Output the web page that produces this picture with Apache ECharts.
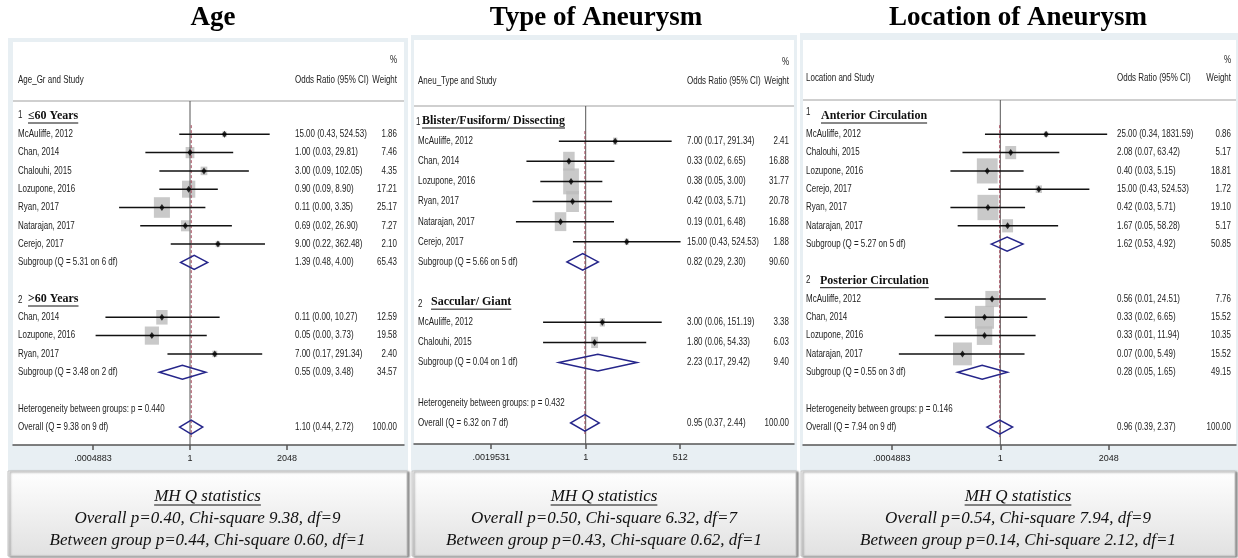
<!DOCTYPE html>
<html>
<head>
<meta charset="utf-8">
<title>Forest plots</title>
<script src="https://cdn.jsdelivr.net/npm/echarts@6/dist/echarts.min.js"></script>
<style>
html, body { margin: 0; padding: 0; background: #fff; }
#chart { width: 1238px; height: 558px; }
</style>
</head>
<body>
<div id="chart"></div>
<script>
// ---- Age ----
const ageGroups = ['≤60 Years', '>60 Years']
const ageStudies = ['McAuliffe, 2012', 'Chan, 2014', 'Chalouhi, 2015', 'Lozupone, 2016', 'Ryan, 2017', 'Natarajan, 2017', 'Cerejo, 2017', 'Chan, 2014', 'Lozupone, 2016', 'Ryan, 2017']
const ageStudyGroup = [0, 0, 0, 0, 0, 0, 0, 1, 1, 1]
const ageOR = [15.00, 1.00, 3.00, 0.90, 0.11, 0.69, 9.00, 0.11, 0.05, 7.00]
const ageLow = [0.43, 0.03, 0.09, 0.09, 0.0038, 0.02, 0.22, 0.0013, 0.0006, 0.17]
const ageHigh = [524.53, 29.81, 102.05, 8.90, 3.35, 26.90, 362.48, 10.27, 3.73, 291.34]
const ageWeight = [1.86, 7.46, 4.35, 17.21, 25.17, 7.27, 2.10, 12.59, 19.58, 2.40]
const ageSubQ = [5.31, 3.48]
const ageSubDf = [6, 2]
const ageSubOR = [1.39, 0.55]
const ageSubLow = [0.48, 0.09]
const ageSubHigh = [4.00, 3.48]
const ageSubWeight = [65.43, 34.57]
const ageHetP = '0.440'
const ageOverall = [1.10, 0.44, 2.72] // OR, low, high
const ageOverallQ = [9.38, 9] // Q, df
const ageTicks = [0.00048828125, 1, 2048]
const ageTickLabels = ['.0004883', '1', '2048']
const ageStats = ['Overall p=0.40, Chi-square 9.38, df=9', 'Between group p=0.44, Chi-square 0.60, df=1']

// ---- Type of aneurysm ----
const typeGroups = ['Blister/Fusiform/ Dissecting', 'Saccular/ Giant']
const typeStudies = ['McAuliffe, 2012', 'Chan, 2014', 'Lozupone, 2016', 'Ryan, 2017', 'Natarajan, 2017', 'Cerejo, 2017', 'McAuliffe, 2012', 'Chalouhi, 2015']
const typeStudyGroup = [0, 0, 0, 0, 0, 0, 1, 1]
const typeOR = [7.00, 0.33, 0.38, 0.42, 0.19, 15.00, 3.00, 1.80]
const typeLow = [0.17, 0.02, 0.05, 0.03, 0.01, 0.43, 0.06, 0.06]
const typeHigh = [291.34, 6.65, 3.00, 5.71, 6.48, 524.53, 151.19, 54.33]
const typeWeight = [2.41, 16.88, 31.77, 20.78, 16.88, 1.88, 3.38, 6.03]
const typeSubQ = [5.66, 0.04]
const typeSubDf = [5, 1]
const typeSubOR = [0.82, 2.23]
const typeSubLow = [0.29, 0.17]
const typeSubHigh = [2.30, 29.42]
const typeSubWeight = [90.60, 9.40]
const typeHetP = '0.432'
const typeOverall = [0.95, 0.37, 2.44]
const typeOverallQ = [6.32, 7]
const typeTicks = [0.001953125, 1, 512]
const typeTickLabels = ['.0019531', '1', '512']
const typeStats = ['Overall p=0.50, Chi-square 6.32, df=7', 'Between group p=0.43, Chi-square 0.62, df=1']

// ---- Location of aneurysm ----
const locGroups = ['Anterior Circulation', 'Posterior Circulation']
const locStudies = ['McAuliffe, 2012', 'Chalouhi, 2015', 'Lozupone, 2016', 'Cerejo, 2017', 'Ryan, 2017', 'Natarajan, 2017', 'McAuliffe, 2012', 'Chan, 2014', 'Lozupone, 2016', 'Natarajan, 2017']
const locStudyGroup = [0, 0, 0, 0, 0, 0, 1, 1, 1, 1]
const locOR = [25.00, 2.08, 0.40, 15.00, 0.42, 1.67, 0.56, 0.33, 0.33, 0.07]
const locLow = [0.34, 0.07, 0.03, 0.43, 0.03, 0.05, 0.01, 0.02, 0.01, 0.0008]
const locHigh = [1831.59, 63.42, 5.15, 524.53, 5.71, 58.28, 24.51, 6.65, 11.94, 5.49]
const locWeight = [0.86, 5.17, 18.81, 1.72, 19.10, 5.17, 7.76, 15.52, 10.35, 15.52]
const locSubQ = [5.27, 0.55]
const locSubDf = [5, 3]
const locSubOR = [1.62, 0.28]
const locSubLow = [0.53, 0.05]
const locSubHigh = [4.92, 1.65]
const locSubWeight = [50.85, 49.15]
const locHetP = '0.146'
const locOverall = [0.96, 0.39, 2.37]
const locOverallQ = [7.94, 9]
const locTicks = [0.00048828125, 1, 2048]
const locTickLabels = ['.0004883', '1', '2048']
const locStats = ['Overall p=0.54, Chi-square 7.94, df=9', 'Between group p=0.14, Chi-square 2.12, df=1']

const statsTitle = 'MH Q statistics'

const fontSans = '"Liberation Sans", Arial, sans-serif'
const fontSerif = '"Liberation Serif", "Times New Roman", serif'
const SQUEEZE = 0.76 // the source text is horizontally condensed

const measureCtx = document.createElement('canvas').getContext('2d')
function textWidth (text, font) {
  measureCtx.font = font
  return measureCtx.measureText(text).width
}

function sansText (x, y, text, align) {
  return {
    type: 'text',
    x: x,
    y: y,
    scaleX: SQUEEZE,
    style: { text: text, font: '10.5px ' + fontSans, fill: '#222', textAlign: align || 'left', textVerticalAlign: 'middle' }
  }
}

function fmtCI (r) {
  return r.or.toFixed(2) + ' (' + r.low.toFixed(2) + ', ' + r.high.toFixed(2) + ')'
}

// panel geometry (pixels)
const layouts = [
  { title: 'Age', head: 'Age_Gr and Study', titleX: 213, x0: 8, x1: 408, top: 38, innerTop: 42, gl: 13, gr: 404, one: 190, ppu: 8.82, row0: 116, step: 18.3, sep: 101, axisY: 445, hy: [60, 80], labX: 18, orX: 295, wX: 397, sq: [3.2, 4.1], dia: 7, numDx: [0, 0], numDy: [-1, 1], indent: [10, 10], box: [8, 407] },
  { title: 'Type of Aneurysm', head: 'Aneu_Type and Study', titleX: 596, x0: 411, x1: 797, top: 35, innerTop: 40, gl: 414, gr: 794, one: 585.7, ppu: 10.5, row0: 121, step: 20.13, sep: 106, axisY: 444, hy: [62, 81], labX: 418, orX: 687, wX: 789, sq: [2.8, 4.6], dia: 8.3, numDx: [-2, 0], numDy: [1, 2], indent: [4, 13], box: [412, 796] },
  { title: 'Location of Aneurysm', head: 'Location and Study', titleX: 1018, x0: 800, x1: 1238, top: 33, innerTop: 40, gl: 803, gr: 1236, one: 1000.3, ppu: 9.86, row0: 116, step: 18.3, sep: 100, axisY: 445, hy: [60, 78], labX: 806, orX: 1117, wX: 1231, sq: [4.8, 5.8], dia: 7, numDx: [0, 0], numDy: [-4, -1], indent: [15, 14], box: [801, 1235] }
]

const panelData = [
  { groups: ageGroups, studies: ageStudies, studyGroup: ageStudyGroup, or: ageOR, low: ageLow, high: ageHigh, weight: ageWeight, subQ: ageSubQ, subDf: ageSubDf, subOR: ageSubOR, subLow: ageSubLow, subHigh: ageSubHigh, subWeight: ageSubWeight, hetP: ageHetP, overall: ageOverall, overallQ: ageOverallQ, ticks: ageTicks, tickLabels: ageTickLabels, stats: ageStats },
  { groups: typeGroups, studies: typeStudies, studyGroup: typeStudyGroup, or: typeOR, low: typeLow, high: typeHigh, weight: typeWeight, subQ: typeSubQ, subDf: typeSubDf, subOR: typeSubOR, subLow: typeSubLow, subHigh: typeSubHigh, subWeight: typeSubWeight, hetP: typeHetP, overall: typeOverall, overallQ: typeOverallQ, ticks: typeTicks, tickLabels: typeTickLabels, stats: typeStats },
  { groups: locGroups, studies: locStudies, studyGroup: locStudyGroup, or: locOR, low: locLow, high: locHigh, weight: locWeight, subQ: locSubQ, subDf: locSubDf, subOR: locSubOR, subLow: locSubLow, subHigh: locSubHigh, subWeight: locSubWeight, hetP: locHetP, overall: locOverall, overallQ: locOverallQ, ticks: locTicks, tickLabels: locTickLabels, stats: locStats }
]

function buildRows (d) {
  const rows = []
  let r = 0
  d.groups.forEach((g, gi) => {
    rows.push({ kind: 'group', num: gi + 1, gi: gi, label: g, row: r++ })
    d.studies.forEach((s, i) => {
      if (d.studyGroup[i] !== gi) return
      rows.push({ kind: 'study', label: s, or: d.or[i], low: d.low[i], high: d.high[i], w: d.weight[i], row: r++ })
    })
    rows.push({ kind: 'sub', label: 'Subgroup (Q = ' + d.subQ[gi].toFixed(2) + ' on ' + d.subDf[gi] + ' df)', or: d.subOR[gi], low: d.subLow[gi], high: d.subHigh[gi], w: d.subWeight[gi], row: r++ })
    r++ // blank line
  })
  rows.push({ kind: 'het', label: 'Heterogeneity between groups: p = ' + d.hetP, row: r++ })
  rows.push({ kind: 'overall', label: 'Overall (Q = ' + d.overallQ[0].toFixed(2) + ' on ' + d.overallQ[1] + ' df)', or: d.overall[0], low: d.overall[1], high: d.overall[2], w: 100, row: r++ })
  return rows
}

const option = {
  animation: false,
  backgroundColor: '#fff',
  grid: [],
  xAxis: [],
  yAxis: [],
  series: [],
  graphic: { elements: [] }
}

layouts.forEach((L, i) => {
  const d = panelData[i]
  const rows = buildRows(d)
  const studies = rows.filter(r => r.kind === 'study')
  const diamonds = rows.filter(r => r.kind === 'sub' || r.kind === 'overall')
  const overallRow = rows[rows.length - 1]
  const yMin = (L.sep - L.row0) / L.step
  const yMax = (L.axisY - L.row0) / L.step

  option.grid.push({ left: L.gl, top: L.sep, width: L.gr - L.gl, height: L.axisY - L.sep, containLabel: false, outerBoundsMode: 'none' })
  option.xAxis.push({
    gridIndex: i,
    type: 'log',
    logBase: 2,
    min: Math.pow(2, (L.gl - L.one) / L.ppu),
    max: Math.pow(2, (L.gr - L.one) / L.ppu),
    axisLine: { onZero: false, lineStyle: { color: '#555', width: 1.5 } },
    axisTick: { customValues: d.ticks, length: 5, lineStyle: { color: '#555', width: 1.5 } },
    axisLabel: {
      customValues: d.ticks,
      fontSize: 9,
      fontFamily: fontSans,
      color: '#222',
      margin: 9,
      formatter: v => {
        const k = d.ticks.findIndex(t => Math.abs(Math.log2(t) - Math.log2(v)) < 0.01)
        return k >= 0 ? d.tickLabels[k] : ''
      }
    },
    splitLine: { show: false },
    minorTick: { show: false }
  })
  option.yAxis.push({ gridIndex: i, type: 'value', inverse: true, min: yMin, max: yMax, show: false, splitLine: { show: false } })

  const ax = { xAxisIndex: i, yAxisIndex: i }

  // weight squares
  option.series.push(Object.assign({
    type: 'scatter',
    symbol: 'rect',
    silent: true,
    z: 2,
    symbolSize: v => [L.sq[0] * Math.sqrt(v[2]), L.sq[1] * Math.sqrt(v[2])],
    itemStyle: { color: '#bcbcbc' },
    data: studies.map(r => [r.or, r.row, r.w])
  }, ax))

  // line of no effect
  option.series.push(Object.assign({
    type: 'line',
    symbol: 'none',
    silent: true,
    z: 3,
    lineStyle: { color: '#555', width: 1 },
    data: [[1, yMin], [1, yMax]]
  }, ax))

  // overall estimate
  option.series.push(Object.assign({
    type: 'line',
    symbol: 'none',
    silent: true,
    z: 3,
    lineStyle: { color: '#a3485a', width: 1, type: [3, 2] },
    data: [[overallRow.or, 0.5], [overallRow.or, overallRow.row + 0.55]]
  }, ax))

  // confidence intervals
  option.series.push(Object.assign({
    type: 'custom',
    silent: true,
    z: 4,
    encode: { x: [0, 1], y: 2 },
    data: studies.map(r => [r.low, r.high, r.row]),
    renderItem: (params, api) => {
      const a = api.coord([api.value(0), api.value(2)])
      const b = api.coord([api.value(1), api.value(2)])
      return { type: 'line', shape: { x1: a[0], y1: a[1], x2: b[0], y2: b[1] }, style: { stroke: '#111', lineWidth: 1.5 } }
    }
  }, ax))

  // point estimates
  option.series.push(Object.assign({
    type: 'scatter',
    symbol: 'diamond',
    symbolSize: [5, 7],
    silent: true,
    z: 5,
    itemStyle: { color: '#000' },
    data: studies.map(r => [r.or, r.row])
  }, ax))

  // pooled diamonds
  option.series.push(Object.assign({
    type: 'custom',
    silent: true,
    z: 5,
    encode: { x: [0, 1, 2], y: 3 },
    data: diamonds.map(r => [r.low, r.or, r.high, r.row]),
    renderItem: (params, api) => {
      const lo = api.coord([api.value(0), api.value(3)])
      const mid = api.coord([api.value(1), api.value(3)])
      const hi = api.coord([api.value(2), api.value(3)])
      return {
        type: 'polygon',
        shape: { points: [[lo[0], lo[1]], [mid[0], mid[1] - L.dia], [hi[0], hi[1]], [mid[0], mid[1] + L.dia]] },
        style: { fill: 'none', stroke: '#25258a', lineWidth: 1.5 }
      }
    }
  }, ax))

  // row texts
  option.series.push(Object.assign({
    type: 'custom',
    silent: true,
    z: 6,
    encode: { x: 0, y: 1 },
    data: rows.map(r => [1, r.row]),
    renderItem: (params, api) => {
      const r = rows[params.dataIndex]
      const y = api.coord([1, r.row])[1]
      const kids = []
      if (r.kind === 'group') {
        const font = 'bold 12px ' + fontSerif
        const tx = L.labX + L.indent[r.gi]
        kids.push(sansText(L.labX + L.numDx[r.gi], y + L.numDy[r.gi], String(r.num)))
        kids.push({ type: 'text', x: tx, y: y, style: { text: r.label, font: font, fill: '#111', textAlign: 'left', textVerticalAlign: 'middle' } })
        kids.push({ type: 'line', shape: { x1: tx, y1: y + 7, x2: tx + textWidth(r.label, font), y2: y + 7 }, style: { stroke: '#111', lineWidth: 1 } })
      } else {
        kids.push(sansText(L.labX, y, r.label))
        if (r.or != null) {
          kids.push(sansText(L.orX, y, fmtCI(r)))
          kids.push(sansText(L.wX, y, r.w.toFixed(2), 'right'))
        }
      }
      return { type: 'group', children: kids }
    }
  }, ax))

  // frames, headers, titles, statistics boxes
  const g = option.graphic.elements
  g.push({ type: 'rect', z: 0, silent: true, shape: { x: L.x0, y: L.top, width: L.x1 - L.x0, height: 471 - L.top }, style: { fill: '#e8eff3' } })
  g.push({ type: 'rect', z: 0, silent: true, shape: { x: L.gl, y: L.innerTop, width: L.gr - L.gl, height: L.axisY - L.innerTop }, style: { fill: '#fff' } })
  g.push({ type: 'line', z: 1, silent: true, shape: { x1: L.gl, y1: L.sep, x2: L.gr, y2: L.sep }, style: { stroke: '#cfcfcf', lineWidth: 2 } })
  g.push(Object.assign(sansText(L.wX, L.hy[0], '%', 'right'), { z: 10 }))
  g.push(Object.assign(sansText(L.labX, L.hy[1], L.head), { z: 10 }))
  g.push(Object.assign(sansText(L.orX, L.hy[1], 'Odds Ratio (95% CI)'), { z: 10 }))
  g.push(Object.assign(sansText(L.wX, L.hy[1], 'Weight', 'right'), { z: 10 }))
  g.push({ type: 'text', z: 10, silent: true, x: L.titleX, y: 18, style: { text: L.title, font: 'bold 27px ' + fontSerif, fill: '#000', textAlign: 'center', textVerticalAlign: 'middle' } })

  const bx = L.box[0]
  const bw = L.box[1] - L.box[0]
  const cx = bx + bw / 2
  g.push({
    type: 'rect',
    z: 1,
    silent: true,
    shape: { x: bx, y: 471, width: bw, height: 85 },
    style: {
      fill: { type: 'linear', x: 0, y: 0, x2: 0, y2: 1, colorStops: [{ offset: 0, color: '#ffffff' }, { offset: 1, color: '#e1e1e1' }] },
      stroke: '#c4c4c4',
      lineWidth: 1,
      shadowBlur: 2,
      shadowOffsetX: 2,
      shadowOffsetY: 1,
      shadowColor: 'rgba(0,0,0,0.45)'
    }
  })
  const statFont = 'italic 17px ' + fontSerif
  const statLines = [statsTitle].concat(d.stats)
  const statY = [497, 519, 541]
  statLines.forEach((t, k) => {
    g.push({ type: 'text', z: 10, silent: true, x: cx, y: statY[k], style: { text: t, font: statFont, fill: '#111', textAlign: 'center', textVerticalAlign: 'middle' } })
  })
  const uw = textWidth(statsTitle, statFont)
  g.push({ type: 'line', z: 10, silent: true, shape: { x1: cx - uw / 2, y1: statY[0] + 8, x2: cx + uw / 2, y2: statY[0] + 8 }, style: { stroke: '#111', lineWidth: 1 } })
})

const chart = echarts.init(document.getElementById('chart'))
chart.setOption(option)
window.addEventListener('resize', () => chart.resize())
</script>
</body>
</html>
